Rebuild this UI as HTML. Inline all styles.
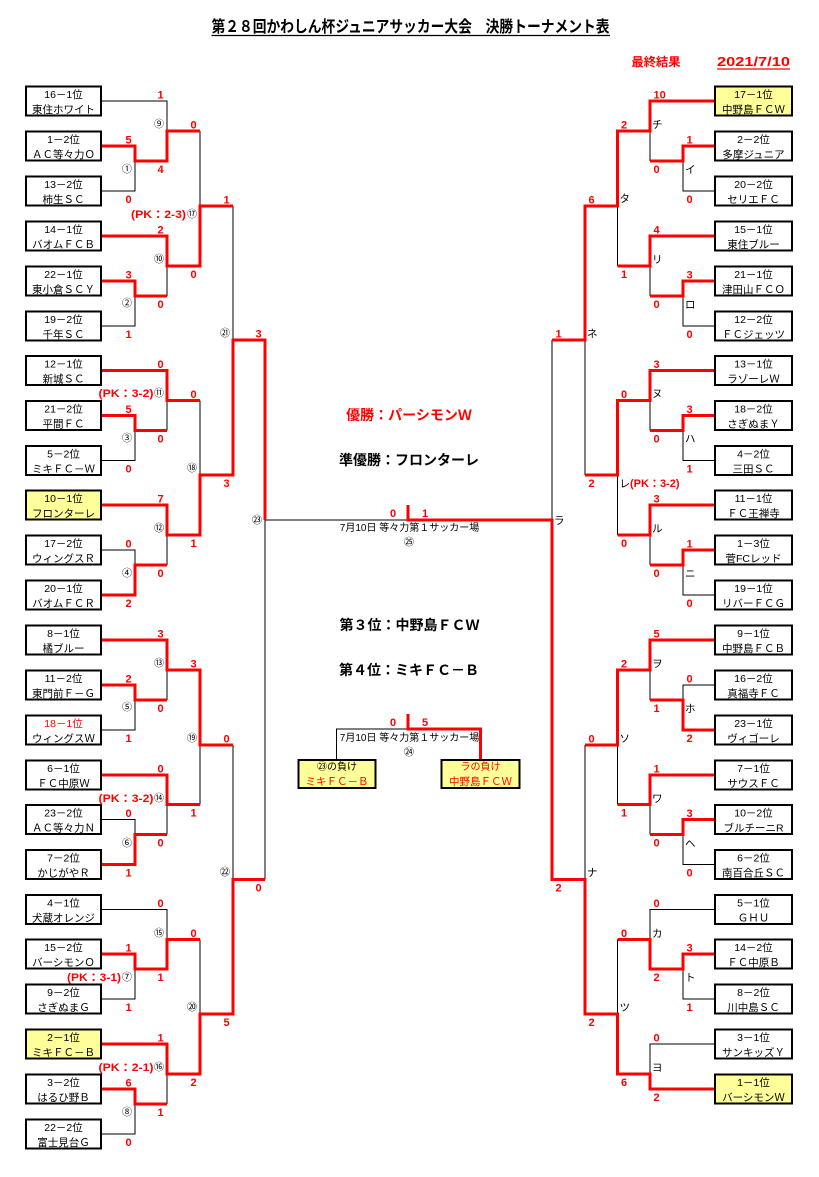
<!DOCTYPE html>
<html><head><meta charset="utf-8"><style>
html,body{margin:0;padding:0;background:#fff;}
svg{display:block;}
.k{stroke:#000;stroke-width:1;fill:none;}
.r{stroke:#ff0000;stroke-width:3;fill:none;stroke-linejoin:miter;}
.bx{fill:#fff;stroke:#000;stroke-width:2;}
.by{fill:#ffff99;stroke:#000;stroke-width:2;}
text{font-family:"Liberation Sans","Noto Sans CJK JP",sans-serif;}
.t{font-size:10.5px;text-anchor:middle;fill:#000;}
.s{font-family:"Liberation Sans",sans-serif;font-weight:bold;font-size:11px;fill:#ff0000;text-anchor:middle;}
.sr{font-family:"Liberation Sans",sans-serif;font-weight:bold;font-size:11px;fill:#ff0000;text-anchor:start;}
.c{font-size:10px;text-anchor:middle;fill:#000;}
.l{font-size:10.5px;text-anchor:start;fill:#000;}
.pk{font-weight:bold;font-size:11px;fill:#ff0000;text-anchor:end;}
.big{font-weight:bold;font-size:14px;text-anchor:middle;}
</style></head><body>
<svg width="819" height="1177" viewBox="0 0 819 1177" xmlns="http://www.w3.org/2000/svg">
<rect width="819" height="1177" fill="#fff"/>

<!-- Header -->
<text x="410.5" y="32" font-size="16" font-weight="bold" text-anchor="middle" textLength="398" lengthAdjust="spacingAndGlyphs">第２８回かわしん杯ジュニアサッカー大会　決勝トーナメント表</text>
<line x1="211.5" y1="35.5" x2="610" y2="35.5" stroke="#000" stroke-width="1.2"/>
<text x="656" y="66" font-size="12" font-weight="bold" fill="#ff0000" text-anchor="middle" textLength="49" lengthAdjust="spacingAndGlyphs">最終結果</text>
<text x="753.5" y="66" font-size="13" font-weight="bold" fill="#ff0000" text-anchor="middle" textLength="73" lengthAdjust="spacingAndGlyphs">2021/7/10</text>
<line x1="717" y1="69" x2="790" y2="69" stroke="#ff0000" stroke-width="1.2"/>

<!-- LEFT black lines -->
<path class="k" d="M101,101 H167 V131"/>
<path class="k" d="M101,191 H135 V161"/>
<path class="k" d="M200,131 V206"/>
<path class="k" d="M167,266 V296"/>
<path class="k" d="M101,326 H135 V296"/>
<path class="k" d="M233,206 V340"/>
<path class="k" d="M167,400.5 V430.5"/>
<path class="k" d="M101,460.5 H135 V430.5"/>
<path class="k" d="M200,400.5 V475"/>
<path class="k" d="M167,535 V565"/>
<path class="k" d="M101,550 H135 V565"/>
<path class="k" d="M265,520 V879.5"/>
<path class="k" d="M265,520 H408"/>
<path class="k" d="M167,670 V700"/>
<path class="k" d="M101,730 H135 V700"/>
<path class="k" d="M200,745 V804.5"/>
<path class="k" d="M167,804.5 V834.5"/>
<path class="k" d="M101,819.5 H135 V834.5"/>
<path class="k" d="M233,745 V879.5"/>
<path class="k" d="M101,909.5 H167 V939.5"/>
<path class="k" d="M101,999 H135 V969"/>
<path class="k" d="M200,939.5 V1014"/>
<path class="k" d="M167,1074 V1104"/>
<path class="k" d="M101,1134 H135 V1104"/>

<!-- RIGHT black lines -->
<path class="k" d="M650,131 V161"/>
<path class="k" d="M715,191 H683 V161"/>
<path class="k" d="M617.5,206 V266"/>
<path class="k" d="M650,266 V296"/>
<path class="k" d="M715,326 H683 V296"/>
<path class="k" d="M585,340 V475"/>
<path class="k" d="M552,340 V520"/>
<path class="k" d="M650,400.5 V430.5"/>
<path class="k" d="M715,460.5 H683 V430.5"/>
<path class="k" d="M617.5,475 V535"/>
<path class="k" d="M650,535 V565"/>
<path class="k" d="M715,595 H683 V565"/>
<path class="k" d="M650,670 V700"/>
<path class="k" d="M715,685 H683 V700"/>
<path class="k" d="M617.5,745 V804.5"/>
<path class="k" d="M650,804.5 V834.5"/>
<path class="k" d="M715,864.5 H683 V834.5"/>
<path class="k" d="M585,745 V879.5"/>
<path class="k" d="M715,909.5 H650 V939.5"/>
<path class="k" d="M715,999 H683 V969"/>
<path class="k" d="M617.5,939.5 V1014"/>
<path class="k" d="M715,1044 H650 V1074"/>

<!-- 3rd place black -->
<path class="k" d="M336.5,759 V729 H408"/>

<!-- LEFT red -->
<path class="r" d="M101,146 H135 V161 H167 V131 H200"/>
<path class="r" d="M101,236 H167 V266 H200 V206 H233"/>
<path class="r" d="M101,281 H135 V296 H167"/>
<path class="r" d="M101,370.5 H167 V400.5 H200"/>
<path class="r" d="M101,415.5 H135 V430.5 H167"/>
<path class="r" d="M101,505 H167 V535 H200 V475 H233 V340 H265 V520"/>
<path class="r" d="M101,595 H135 V565 H167"/>
<path class="r" d="M101,640 H167 V670 H200 V745 H233"/>
<path class="r" d="M101,685 H135 V700 H167"/>
<path class="r" d="M101,775 H167 V804.5 H200"/>
<path class="r" d="M101,864.5 H135 V834.5 H167"/>
<path class="r" d="M101,954 H135 V969 H167 V939.5 H200"/>
<path class="r" d="M101,1044 H167 V1074 H200 V1014 H233 V879.5 H265"/>
<path class="r" d="M101,1089 H135 V1104 H167"/>

<!-- RIGHT red -->
<path class="r" d="M715,101 H650 V131 H617.5 V206 H585 V340 H552"/>
<path class="r" d="M715,146 H683 V161 H650"/>
<path class="r" d="M715,236 H650 V266 H617.5"/>
<path class="r" d="M715,281 H683 V296 H650"/>
<path class="r" d="M715,370.5 H650 V400.5 H617.5 V475 H585"/>
<path class="r" d="M715,415.5 H683 V430.5 H650"/>
<path class="r" d="M715,505 H650 V535 H617.5"/>
<path class="r" d="M715,550 H683 V565 H650"/>
<path class="r" d="M715,640 H650 V670 H617.5 V745 H585"/>
<path class="r" d="M715,730 H683 V700 H650"/>
<path class="r" d="M715,775 H650 V804.5 H617.5"/>
<path class="r" d="M715,819.5 H683 V834.5 H650"/>
<path class="r" d="M715,954 H683 V969 H650 V939.5 H617.5"/>
<path class="r" d="M408,505 V520 H552 V879.5 H585 V1014 H617.5 V1074 H650 V1089 H715"/>
<!-- 3rd place red -->
<path class="r" d="M408,714 V729 H480.5 V760"/>

<!-- LEFT boxes -->
<g transform="translate(0,101)"><rect class="bx" x="26" y="-14.5" width="75" height="29"/><text class="t" x="63.5" y="-3">16－1位</text><text class="t" x="63.5" y="12">東住ホワイト</text></g>
<g transform="translate(0,146)"><rect class="bx" x="26" y="-14.5" width="75" height="29"/><text class="t" x="63.5" y="-3">1－2位</text><text class="t" x="63.5" y="12">ＡＣ等々力Ｏ</text></g>
<g transform="translate(0,191)"><rect class="bx" x="26" y="-14.5" width="75" height="29"/><text class="t" x="63.5" y="-3">13－2位</text><text class="t" x="63.5" y="12">柿生ＳＣ</text></g>
<g transform="translate(0,236)"><rect class="bx" x="26" y="-14.5" width="75" height="29"/><text class="t" x="63.5" y="-3">14－1位</text><text class="t" x="63.5" y="12">バオムＦＣＢ</text></g>
<g transform="translate(0,281)"><rect class="bx" x="26" y="-14.5" width="75" height="29"/><text class="t" x="63.5" y="-3">22－1位</text><text class="t" x="63.5" y="12">東小倉ＳＣＹ</text></g>
<g transform="translate(0,326)"><rect class="bx" x="26" y="-14.5" width="75" height="29"/><text class="t" x="63.5" y="-3">19－2位</text><text class="t" x="63.5" y="12">千年ＳＣ</text></g>
<g transform="translate(0,370.5)"><rect class="bx" x="26" y="-14.5" width="75" height="29"/><text class="t" x="63.5" y="-3">12－1位</text><text class="t" x="63.5" y="12">新城ＳＣ</text></g>
<g transform="translate(0,415.5)"><rect class="bx" x="26" y="-14.5" width="75" height="29"/><text class="t" x="63.5" y="-3">21－2位</text><text class="t" x="63.5" y="12">平間ＦＣ</text></g>
<g transform="translate(0,460.5)"><rect class="bx" x="26" y="-14.5" width="75" height="29"/><text class="t" x="63.5" y="-3">5－2位</text><text class="t" x="63.5" y="12">ミキＦＣ－Ｗ</text></g>
<g transform="translate(0,505)"><rect class="by" x="26" y="-14.5" width="75" height="29"/><text class="t" x="63.5" y="-3">10－1位</text><text class="t" x="63.5" y="12">フロンターレ</text></g>
<g transform="translate(0,550)"><rect class="bx" x="26" y="-14.5" width="75" height="29"/><text class="t" x="63.5" y="-3">17－2位</text><text class="t" x="63.5" y="12">ウィングスＲ</text></g>
<g transform="translate(0,595)"><rect class="bx" x="26" y="-14.5" width="75" height="29"/><text class="t" x="63.5" y="-3">20－1位</text><text class="t" x="63.5" y="12">バオムＦＣＲ</text></g>
<g transform="translate(0,640)"><rect class="bx" x="26" y="-14.5" width="75" height="29"/><text class="t" x="63.5" y="-3">8－1位</text><text class="t" x="63.5" y="12">橘ブルー</text></g>
<g transform="translate(0,685)"><rect class="bx" x="26" y="-14.5" width="75" height="29"/><text class="t" x="63.5" y="-3">11－2位</text><text class="t" x="63.5" y="12">東門前Ｆ－Ｇ</text></g>
<g transform="translate(0,730)"><rect class="bx" x="26" y="-14.5" width="75" height="29"/><text class="t" x="63.5" y="-3" fill="#ff0000" style="fill:#ff0000">18－1位</text><text class="t" x="63.5" y="12">ウィングスＷ</text></g>
<g transform="translate(0,775)"><rect class="bx" x="26" y="-14.5" width="75" height="29"/><text class="t" x="63.5" y="-3">6－1位</text><text class="t" x="63.5" y="12">ＦＣ中原Ｗ</text></g>
<g transform="translate(0,819.5)"><rect class="bx" x="26" y="-14.5" width="75" height="29"/><text class="t" x="63.5" y="-3">23－2位</text><text class="t" x="63.5" y="12">ＡＣ等々力Ｎ</text></g>
<g transform="translate(0,864.5)"><rect class="bx" x="26" y="-14.5" width="75" height="29"/><text class="t" x="63.5" y="-3">7－2位</text><text class="t" x="63.5" y="12">かじがやＲ</text></g>
<g transform="translate(0,909.5)"><rect class="bx" x="26" y="-14.5" width="75" height="29"/><text class="t" x="63.5" y="-3">4－1位</text><text class="t" x="63.5" y="12">犬蔵オレンジ</text></g>
<g transform="translate(0,954)"><rect class="bx" x="26" y="-14.5" width="75" height="29"/><text class="t" x="63.5" y="-3">15－2位</text><text class="t" x="63.5" y="12">バーシモンＯ</text></g>
<g transform="translate(0,999)"><rect class="bx" x="26" y="-14.5" width="75" height="29"/><text class="t" x="63.5" y="-3">9－2位</text><text class="t" x="63.5" y="12">さぎぬまＧ</text></g>
<g transform="translate(0,1044)"><rect class="by" x="26" y="-14.5" width="75" height="29"/><text class="t" x="63.5" y="-3">2－1位</text><text class="t" x="63.5" y="12">ミキＦＣ－Ｂ</text></g>
<g transform="translate(0,1089)"><rect class="bx" x="26" y="-14.5" width="75" height="29"/><text class="t" x="63.5" y="-3">3－2位</text><text class="t" x="63.5" y="12">はるひ野Ｂ</text></g>
<g transform="translate(0,1134)"><rect class="bx" x="26" y="-14.5" width="75" height="29"/><text class="t" x="63.5" y="-3">22－2位</text><text class="t" x="63.5" y="12">富士見台Ｇ</text></g>

<!-- RIGHT boxes -->
<g transform="translate(0,101)"><rect class="by" x="715" y="-14.5" width="77" height="29"/><text class="t" x="753.5" y="-3">17－1位</text><text class="t" x="753.5" y="12">中野島ＦＣＷ</text></g>
<g transform="translate(0,146)"><rect class="bx" x="715" y="-14.5" width="77" height="29"/><text class="t" x="753.5" y="-3">2－2位</text><text class="t" x="753.5" y="12">多摩ジュニア</text></g>
<g transform="translate(0,191)"><rect class="bx" x="715" y="-14.5" width="77" height="29"/><text class="t" x="753.5" y="-3">20－2位</text><text class="t" x="753.5" y="12">セリエＦＣ</text></g>
<g transform="translate(0,236)"><rect class="bx" x="715" y="-14.5" width="77" height="29"/><text class="t" x="753.5" y="-3">15－1位</text><text class="t" x="753.5" y="12">東住ブルー</text></g>
<g transform="translate(0,281)"><rect class="bx" x="715" y="-14.5" width="77" height="29"/><text class="t" x="753.5" y="-3">21－1位</text><text class="t" x="753.5" y="12">津田山ＦＣＯ</text></g>
<g transform="translate(0,326)"><rect class="bx" x="715" y="-14.5" width="77" height="29"/><text class="t" x="753.5" y="-3">12－2位</text><text class="t" x="753.5" y="12">ＦＣジェッツ</text></g>
<g transform="translate(0,370.5)"><rect class="bx" x="715" y="-14.5" width="77" height="29"/><text class="t" x="753.5" y="-3">13－1位</text><text class="t" x="753.5" y="12">ラゾーレＷ</text></g>
<g transform="translate(0,415.5)"><rect class="bx" x="715" y="-14.5" width="77" height="29"/><text class="t" x="753.5" y="-3">18－2位</text><text class="t" x="753.5" y="12">さぎぬまＹ</text></g>
<g transform="translate(0,460.5)"><rect class="bx" x="715" y="-14.5" width="77" height="29"/><text class="t" x="753.5" y="-3">4－2位</text><text class="t" x="753.5" y="12">三田ＳＣ</text></g>
<g transform="translate(0,505)"><rect class="bx" x="715" y="-14.5" width="77" height="29"/><text class="t" x="753.5" y="-3">11－1位</text><text class="t" x="753.5" y="12">ＦＣ王禅寺</text></g>
<g transform="translate(0,550)"><rect class="bx" x="715" y="-14.5" width="77" height="29"/><text class="t" x="753.5" y="-3">1－3位</text><text class="t" x="753.5" y="12">菅FCレッド</text></g>
<g transform="translate(0,595)"><rect class="bx" x="715" y="-14.5" width="77" height="29"/><text class="t" x="753.5" y="-3">19－1位</text><text class="t" x="753.5" y="12">リバーＦＣＧ</text></g>
<g transform="translate(0,640)"><rect class="bx" x="715" y="-14.5" width="77" height="29"/><text class="t" x="753.5" y="-3">9－1位</text><text class="t" x="753.5" y="12">中野島ＦＣＢ</text></g>
<g transform="translate(0,685)"><rect class="bx" x="715" y="-14.5" width="77" height="29"/><text class="t" x="753.5" y="-3">16－2位</text><text class="t" x="753.5" y="12">真福寺ＦＣ</text></g>
<g transform="translate(0,730)"><rect class="bx" x="715" y="-14.5" width="77" height="29"/><text class="t" x="753.5" y="-3">23－1位</text><text class="t" x="753.5" y="12">ヴィゴーレ</text></g>
<g transform="translate(0,775)"><rect class="bx" x="715" y="-14.5" width="77" height="29"/><text class="t" x="753.5" y="-3">7－1位</text><text class="t" x="753.5" y="12">サウスＦＣ</text></g>
<g transform="translate(0,819.5)"><rect class="bx" x="715" y="-14.5" width="77" height="29"/><text class="t" x="753.5" y="-3">10－2位</text><text class="t" x="753.5" y="12">ブルチーニR</text></g>
<g transform="translate(0,864.5)"><rect class="bx" x="715" y="-14.5" width="77" height="29"/><text class="t" x="753.5" y="-3">6－2位</text><text class="t" x="753.5" y="12">南百合丘ＳＣ</text></g>
<g transform="translate(0,909.5)"><rect class="bx" x="715" y="-14.5" width="77" height="29"/><text class="t" x="753.5" y="-3">5－1位</text><text class="t" x="753.5" y="12">ＧＨＵ</text></g>
<g transform="translate(0,954)"><rect class="bx" x="715" y="-14.5" width="77" height="29"/><text class="t" x="753.5" y="-3">14－2位</text><text class="t" x="753.5" y="12">ＦＣ中原Ｂ</text></g>
<g transform="translate(0,999)"><rect class="bx" x="715" y="-14.5" width="77" height="29"/><text class="t" x="753.5" y="-3">8－2位</text><text class="t" x="753.5" y="12">川中島ＳＣ</text></g>
<g transform="translate(0,1044)"><rect class="bx" x="715" y="-14.5" width="77" height="29"/><text class="t" x="753.5" y="-3">3－1位</text><text class="t" x="753.5" y="12">サンキッズＹ</text></g>
<g transform="translate(0,1089)"><rect class="by" x="715" y="-14.5" width="77" height="29"/><text class="t" x="753.5" y="-3">1－1位</text><text class="t" x="753.5" y="12">バーシモンＷ</text></g>

<!-- LEFT scores -->
<text class="s" x="160.5" y="98.5">1</text><text class="s" x="160.5" y="173">4</text>
<text class="s" x="128.5" y="143.5">5</text><text class="s" x="128.5" y="203">0</text>
<text class="s" x="193.5" y="128.5">0</text><text class="s" x="193.5" y="278">0</text>
<text class="s" x="160.5" y="233.5">2</text><text class="s" x="160.5" y="308">0</text>
<text class="s" x="128.5" y="278.5">3</text><text class="s" x="128.5" y="338">1</text>
<text class="s" x="226.5" y="203.5">1</text><text class="s" x="226.5" y="487">3</text>
<text class="s" x="160.5" y="368">0</text><text class="s" x="160.5" y="442.5">0</text>
<text class="s" x="128.5" y="413">5</text><text class="s" x="128.5" y="472.5">0</text>
<text class="s" x="193.5" y="398">0</text><text class="s" x="193.5" y="547">1</text>
<text class="s" x="160.5" y="502.5">7</text><text class="s" x="160.5" y="577">0</text>
<text class="s" x="128.5" y="547.5">0</text><text class="s" x="128.5" y="607">2</text>
<text class="s" x="258.5" y="337.5">3</text><text class="s" x="258.5" y="891.5">0</text>
<text class="s" x="160.5" y="637.5">3</text><text class="s" x="160.5" y="712">0</text>
<text class="s" x="128.5" y="682.5">2</text><text class="s" x="128.5" y="742">1</text>
<text class="s" x="193.5" y="667.5">3</text><text class="s" x="193.5" y="816.5">1</text>
<text class="s" x="160.5" y="772.5">0</text><text class="s" x="160.5" y="846.5">0</text>
<text class="s" x="128.5" y="817">0</text><text class="s" x="128.5" y="876.5">1</text>
<text class="s" x="226.5" y="742.5">0</text><text class="s" x="226.5" y="1026">5</text>
<text class="s" x="160.5" y="907">0</text><text class="s" x="160.5" y="981">1</text>
<text class="s" x="128.5" y="951.5">1</text><text class="s" x="128.5" y="1011">1</text>
<text class="s" x="193.5" y="937">0</text><text class="s" x="193.5" y="1086">2</text>
<text class="s" x="160.5" y="1041.5">1</text><text class="s" x="160.5" y="1116">1</text>
<text class="s" x="128.5" y="1086.5">6</text><text class="s" x="128.5" y="1146">0</text>

<!-- LEFT circled numbers -->
<text class="c" x="159" y="127.5">⑨</text>
<text class="c" x="127" y="172.5">①</text>
<text class="c" x="192" y="217.5">⑰</text>
<text class="c" x="159" y="262.5">⑩</text>
<text class="c" x="127" y="306.5">②</text>
<text class="c" x="225" y="336.5">㉑</text>
<text class="c" x="159" y="396.5">⑪</text>
<text class="c" x="127" y="441.5">③</text>
<text class="c" x="192" y="471.5">⑱</text>
<text class="c" x="159" y="531.5">⑫</text>
<text class="c" x="127" y="576.5">④</text>
<text class="c" x="257" y="523.5">㉓</text>
<text class="c" x="159" y="666.5">⑬</text>
<text class="c" x="127" y="710.5">⑤</text>
<text class="c" x="192" y="741.5">⑲</text>
<text class="c" x="159" y="801.5">⑭</text>
<text class="c" x="127" y="846.5">⑥</text>
<text class="c" x="225" y="875.5">㉒</text>
<text class="c" x="159" y="936.5">⑮</text>
<text class="c" x="127" y="980.5">⑦</text>
<text class="c" x="192" y="1010.5">⑳</text>
<text class="c" x="159" y="1070.5">⑯</text>
<text class="c" x="127" y="1115.5">⑧</text>

<!-- PK labels -->
<text class="pk" x="186" y="218" textLength="55" lengthAdjust="spacingAndGlyphs">(PK：2-3)</text>
<text class="pk" x="153.5" y="397" textLength="55" lengthAdjust="spacingAndGlyphs">(PK：3-2)</text>
<text class="pk" x="153.5" y="802" textLength="55" lengthAdjust="spacingAndGlyphs">(PK：3-2)</text>
<text class="pk" x="121" y="981" textLength="54" lengthAdjust="spacingAndGlyphs">(PK：3-1)</text>
<text class="pk" x="153.5" y="1071" textLength="55" lengthAdjust="spacingAndGlyphs">(PK：2-1)</text>

<!-- RIGHT scores -->
<text class="sr" x="653.5" y="98.5">10</text><text class="sr" x="653.5" y="173">0</text>
<text class="sr" x="686.5" y="143.5">1</text><text class="sr" x="686.5" y="203">0</text>
<text class="sr" x="621" y="128.5">2</text><text class="sr" x="621" y="278">1</text>
<text class="sr" x="653.5" y="233.5">4</text><text class="sr" x="653.5" y="308">0</text>
<text class="sr" x="686.5" y="278.5">3</text><text class="sr" x="686.5" y="338">0</text>
<text class="sr" x="588.5" y="203.5">6</text><text class="sr" x="588.5" y="487">2</text>
<text class="sr" x="555.5" y="337.5">1</text><text class="sr" x="555.5" y="891.5">2</text>
<text class="sr" x="653.5" y="368">3</text><text class="sr" x="653.5" y="442.5">0</text>
<text class="sr" x="686.5" y="413">3</text><text class="sr" x="686.5" y="472.5">1</text>
<text class="sr" x="621" y="398">0</text><text class="sr" x="621" y="547">0</text>
<text class="sr" x="653.5" y="502.5">3</text><text class="sr" x="653.5" y="577">0</text>
<text class="sr" x="686.5" y="547.5">1</text><text class="sr" x="686.5" y="607">0</text>
<text class="sr" x="653.5" y="637.5">5</text><text class="sr" x="653.5" y="712">1</text>
<text class="sr" x="686.5" y="682.5">0</text><text class="sr" x="686.5" y="742">2</text>
<text class="sr" x="621" y="667.5">2</text><text class="sr" x="621" y="816.5">1</text>
<text class="sr" x="653.5" y="772.5">1</text><text class="sr" x="653.5" y="846.5">0</text>
<text class="sr" x="686.5" y="817">3</text><text class="sr" x="686.5" y="876.5">0</text>
<text class="sr" x="588.5" y="742.5">0</text><text class="sr" x="588.5" y="1026">2</text>
<text class="sr" x="653.5" y="907">0</text><text class="sr" x="653.5" y="981">2</text>
<text class="sr" x="686.5" y="951.5">3</text><text class="sr" x="686.5" y="1011">1</text>
<text class="sr" x="621" y="937">0</text><text class="sr" x="621" y="1086">6</text>
<text class="sr" x="653.5" y="1041.5">0</text><text class="sr" x="653.5" y="1101">2</text>

<!-- RIGHT katakana labels -->
<text class="l" x="652" y="128">チ</text>
<text class="l" x="685" y="173">イ</text>
<text class="l" x="619.5" y="202">タ</text>
<text class="l" x="652" y="263">リ</text>
<text class="l" x="685" y="308">ロ</text>
<text class="l" x="587" y="337">ネ</text>
<text class="l" x="554" y="524">ラ</text>
<text class="l" x="652" y="397">ヌ</text>
<text class="l" x="685" y="442">ハ</text>
<text class="l" x="619.5" y="487">レ<tspan font-weight="bold" font-size="11" fill="#ff0000">(PK：3-2)</tspan></text>
<text class="l" x="652" y="532">ル</text>
<text class="l" x="685" y="577">ニ</text>
<text class="l" x="652" y="667">ヲ</text>
<text class="l" x="685" y="712">ホ</text>
<text class="l" x="619.5" y="742">ソ</text>
<text class="l" x="652" y="802">ワ</text>
<text class="l" x="685" y="847">ヘ</text>
<text class="l" x="587" y="876">ナ</text>
<text class="l" x="652" y="937">カ</text>
<text class="l" x="685" y="981">ト</text>
<text class="l" x="619.5" y="1011">ツ</text>
<text class="l" x="652" y="1071">ヨ</text>

<!-- Center results -->
<text class="big" x="409" y="420" fill="#ff0000">優勝：パーシモンＷ</text>
<text class="big" x="409" y="465" fill="#000">準優勝：フロンターレ</text>
<text class="big" x="409.5" y="630" fill="#000">第３位：中野島ＦＣＷ</text>
<text class="big" x="409" y="675" fill="#000">第４位：ミキＦＣ－Ｂ</text>

<!-- Final -->
<text class="s" x="393" y="517">0</text><text class="s" x="425" y="517">1</text>
<text x="409.5" y="531" font-size="10" text-anchor="middle">7月10日 等々力第１サッカー場</text>
<text class="c" x="409" y="545.5">㉕</text>

<!-- 3rd place -->
<text class="s" x="393" y="726">0</text><text class="s" x="425" y="726">5</text>
<text x="409.5" y="741" font-size="10" text-anchor="middle">7月10日 等々力第１サッカー場</text>
<text class="c" x="409" y="755.5">㉔</text>
<rect class="by" x="298.5" y="760" width="77" height="28"/>
<text x="337" y="770" font-size="10" text-anchor="middle">㉓の負け</text>
<text x="337" y="785" font-size="10.5" text-anchor="middle" fill="#ff0000">ミキＦＣ－Ｂ</text>
<rect class="by" x="441.5" y="760" width="78" height="28"/>
<text x="480.5" y="770" font-size="10" text-anchor="middle" fill="#ff0000">ラの負け</text>
<text x="480.5" y="785" font-size="10.5" text-anchor="middle" fill="#ff0000">中野島ＦＣＷ</text>
</svg>
</body></html>
